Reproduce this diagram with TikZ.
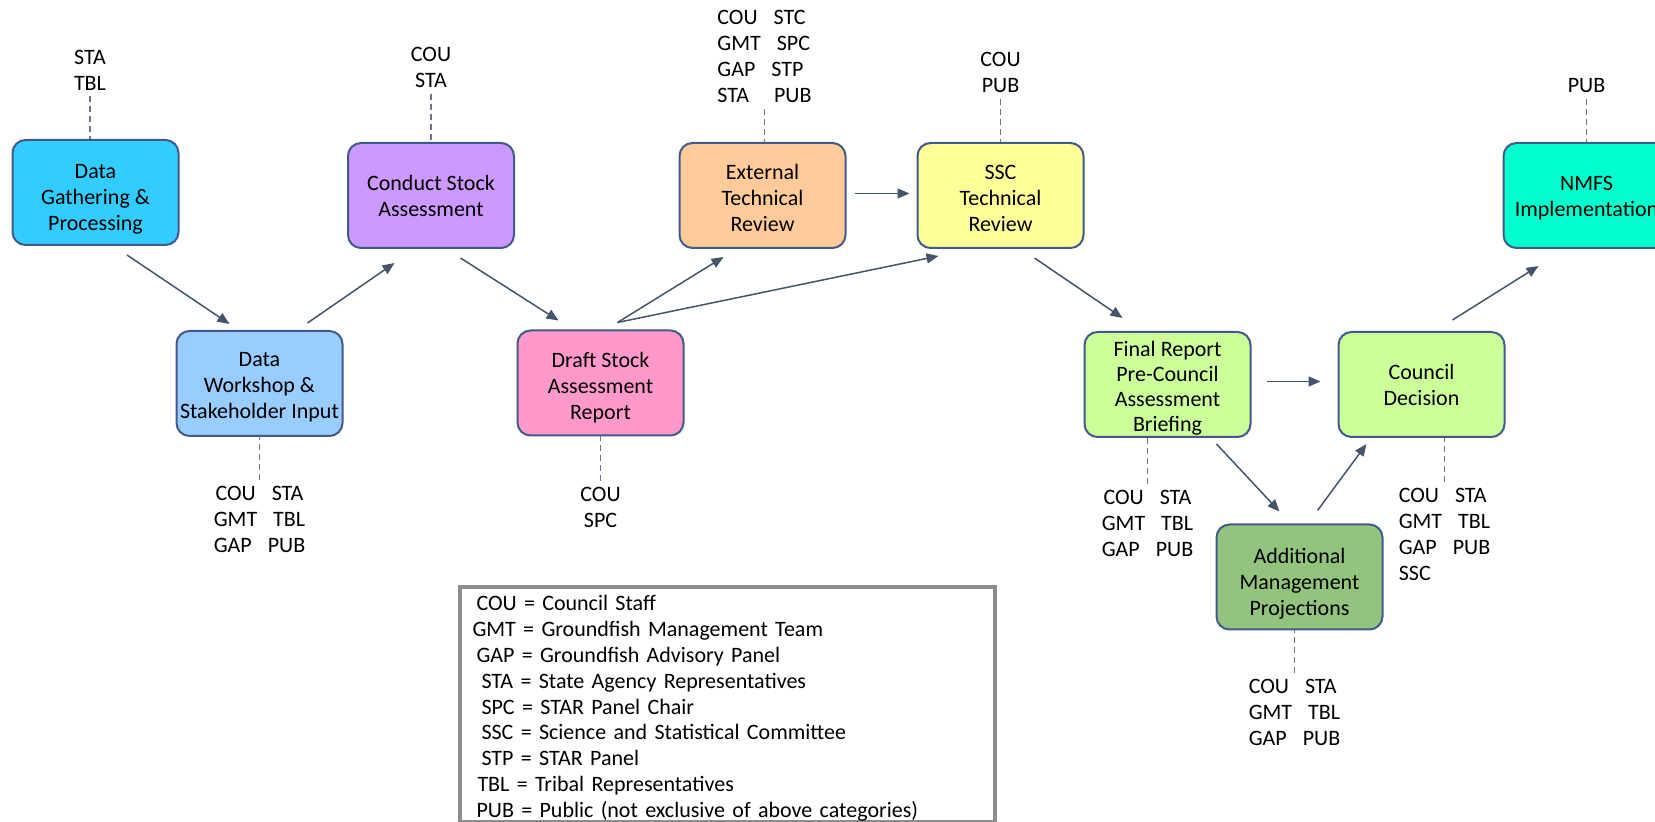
\documentclass[tikz,border=0pt]{standalone}
\usepackage{fontspec}
\setmainfont{Carlito}
\usepackage{tikz}
\usetikzlibrary{arrows.meta, positioning}

\definecolor{boxline}{HTML}{41598B}
\definecolor{flowline}{HTML}{44546A}
\definecolor{tieline}{HTML}{6B7488}
\definecolor{gatherfill}{HTML}{33CCFF}
\definecolor{workfill}{HTML}{99CCFF}
\definecolor{conductfill}{HTML}{CC99FF}
\definecolor{draftfill}{HTML}{FF99CC}
\definecolor{extfill}{HTML}{FFCC99}
\definecolor{sscfill}{HTML}{FFFF99}
\definecolor{councilfill}{HTML}{CCFF99}
\definecolor{addlfill}{HTML}{93C47D}
\definecolor{nmfsfill}{HTML}{00FFCC}
\definecolor{keyline}{HTML}{8C8C8C}

\newcommand{\colgap}{\hspace{8pt}}
\newcommand{\topgap}[1]{\rule{0pt}{#1}}

\begin{document}
\begin{tikzpicture}[x=0.5pt, y=-0.5pt, node distance=2cm, on grid,
    stage/.style={draw=boxline, line width=1pt, rounded corners=6.5pt,
      minimum width=83pt, minimum height=52.5pt, align=center,
      inner xsep=1pt, inner ysep=0pt, font=\fontsize{11}{13}\selectfont},
    who/.style={align=center, inner sep=3pt, font=\fontsize{11}{13}\selectfont},
    flow/.style={draw=flowline, line width=0.75pt, -{Triangle[length=6pt,width=5pt]}},
    tie/.style={draw=tieline, line width=0.9pt, dash pattern=on 3pt off 2pt},
    keybox/.style={draw=keyline, line width=2pt, align=left, anchor=north west,
      minimum width=267.5pt, minimum height=117.5pt, text width=255pt,
      inner xsep=5.5pt, inner ysep=0pt, font=\fontsize{11}{12.95}\selectfont}]
  \useasboundingbox (0,0) rectangle (1655,822);
  \clip (0,0) rectangle (1655,822);

  % process steps
  \node[stage, fill=gatherfill] (gather) at (95.5,192.5) {\topgap{13.5pt}Data\\Gathering \&\\Processing};
  \node[stage, fill=workfill] (workshop) [below right=95.5pt and 82pt of gather] {\topgap{10.3pt}Data\\Workshop \&\\Stakeholder Input};
  \node[stage, fill=conductfill] (conduct) [above right=94pt and 85.75pt of workshop] {Conduct Stock\\Assessment};
  \node[stage, fill=draftfill] (draft) [below right=93.75pt and 84.75pt of conduct] {\topgap{12.7pt}Draft Stock\\Assessment\\Report};
  \node[stage, fill=extfill] (external) [above right=93.75pt and 81pt of draft] {\topgap{10.1pt}External\\Technical\\Review};
  \node[stage, fill=sscfill] (ssc) [right=119pt of external] {\topgap{9.9pt}SSC\\Technical\\Review};
  \node[stage, fill=councilfill, font=\fontsize{11}{12.6}\selectfont] (final) [below right=94.5pt and 83.5pt of ssc] {\topgap{11.4pt}Final Report\\Pre-Council\\Assessment\\Briefing};
  \node[stage, fill=councilfill] (council) [right=127pt of final] {Council\\Decision};
  \node[stage, fill=nmfsfill] (nmfs) [above right=94.5pt and 82.5pt of council] {\topgap{9.3pt}NMFS\\Implementation};
  \node[stage, fill=addlfill] (addl) [below right=96.25pt and 66pt of final] {\topgap{14.1pt}Additional\\Management\\Projections};

  % who takes part
  \node[who, anchor=south] (gatherwho) at ([xshift=-2.75pt, yshift=21.25pt]gather.north) {STA\\TBL};
  \node[who, anchor=south] (conductwho) at ([yshift=24pt]conduct.north) {COU\\STA};
  \node[who, anchor=south, align=left] (externalwho) at ([xshift=1pt, yshift=16.5pt]external.north)
    {COU\colgap STC\\GMT\colgap SPC\\GAP\colgap STP\\STA\hspace{12.5pt}PUB};
  \node[who, anchor=south] (sscwho) at ([yshift=21.5pt]ssc.north) {COU\\PUB};
  \node[who, anchor=south] (nmfswho) at ([yshift=21.5pt]nmfs.north) {PUB};
  \node[who, anchor=north] (workshopwho) at ([yshift=-21.5pt]workshop.south) {COU\colgap STA\\GMT\colgap TBL\\GAP\colgap PUB};
  \node[who, anchor=north] (draftwho) at ([yshift=-22.25pt]draft.south) {COU\\SPC};
  \node[who, anchor=north] (finalwho) at ([xshift=-10pt, yshift=-23pt]final.south) {COU\colgap STA\\GMT\colgap TBL\\GAP\colgap PUB};
  \node[who, anchor=north, align=left] (councilwho) at ([xshift=11.5pt, yshift=-22pt]council.south) {COU\colgap STA\\GMT\colgap TBL\\GAP\colgap PUB\\SSC};
  \node[who, anchor=north, align=left] (addlwho) at ([xshift=-2.5pt, yshift=-21.25pt]addl.south) {COU\colgap STA\\GMT\colgap TBL\\GAP\colgap PUB};

  \draw[tie] (gatherwho) -- (gatherwho |- gather.north);
  \draw[tie] (conductwho) -- (conductwho |- conduct.north);
  \draw[tie] (externalwho) -- (externalwho |- external.north);
  \draw[tie] (sscwho) -- (sscwho |- ssc.north);
  \draw[tie] (nmfswho) -- (nmfswho |- nmfs.north);
  \draw[tie] (workshopwho) -- (workshopwho |- workshop.south);
  \draw[tie] (draftwho) -- (draftwho |- draft.south);
  \draw[tie] (finalwho) -- (finalwho |- final.south);
  \draw[tie] (councilwho) -- (councilwho |- council.south);
  \draw[tie] (addlwho) -- (addlwho |- addl.south);

  % flow between steps
  \draw[flow] ([shift={(31.5,9)}]gather.south) -- ([shift={(-30,-6)}]workshop.north);
  \draw[flow] ([shift={(48,-7)}]workshop.north) -- ([shift={(-36.5,14)}]conduct.south);
  \draw[flow] ([shift={(29.5,9)}]conduct.south) -- ([shift={(-42,-9)}]draft.north);
  \draw[flow] ([shift={(17,-7)}]draft.north) -- ([shift={(-39,8)}]external.south);
  \draw[flow] ([shift={(17,-7)}]draft.north) -- ([shift={(-62,7)}]ssc.south);
  \draw[flow] ([shift={(8,-2)}]external.east) -- ([shift={(-7,-2)}]ssc.west);
  \draw[flow] ([shift={(34,9)}]ssc.south) -- ([shift={(-45,-13)}]final.north);
  \draw[flow] ([shift={(15,-3)}]final.east) -- ([shift={(-17,-3)}]council.west);
  \draw[flow] ([shift={(49,6)}]final.south) -- ([shift={(-20,-12)}]addl.north);
  \draw[flow] ([shift={(18,-13)}]addl.north) -- ([shift={(-55,6)}]council.south);
  \draw[flow] ([shift={(31,-11)}]council.north) -- ([shift={(-48,17)}]nmfs.south);

  % key
  \node[keybox] (key) at (458,585) {\topgap{11.4pt}\hspace*{2pt}COU = Council Staff\\
    GMT = Groundfish Management Team\\
    \hspace*{2pt}GAP = Groundfish Advisory Panel\\
    \hspace*{4.5pt}STA = State Agency Representatives\\
    \hspace*{4.5pt}SPC = STAR Panel Chair\\
    \hspace*{4.5pt}SSC = Science and Statistical Committee\\
    \hspace*{4.5pt}STP = STAR Panel\\
    \hspace*{2.5pt}TBL = Tribal Representatives\\
    \hspace*{2pt}PUB = Public (not exclusive of above categories)};
\end{tikzpicture}
\end{document}
